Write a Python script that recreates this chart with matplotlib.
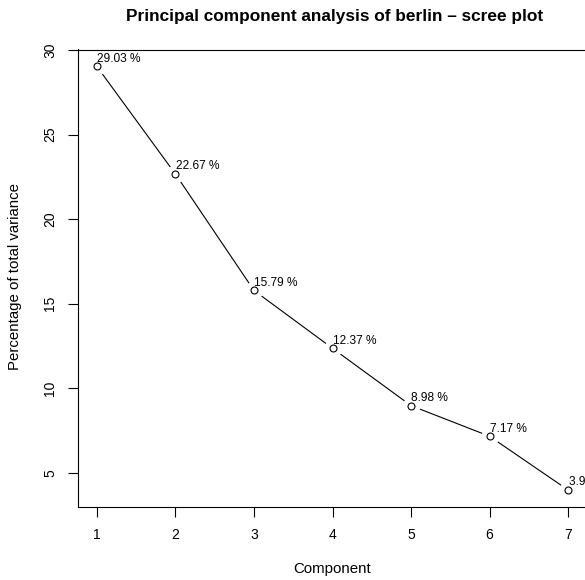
import matplotlib
matplotlib.use("Agg")
import matplotlib.pyplot as plt

components = [1, 2, 3, 4, 5, 6, 7]
variance_pct = [29.03, 22.67, 15.79, 12.37, 8.98, 7.17, 3.99]
point_labels = ["29.03 %", "22.67 %", "15.79 %", "12.37 %", "8.98 %", "7.17 %", "3.99 %"]
x_ticks = [1, 2, 3, 4, 5, 6, 7]
y_ticks = [5, 10, 15, 20, 25, 30]

plt.rcParams["font.family"] = ["Liberation Sans", "DejaVu Sans"]

W, H = 585, 580
fig = plt.figure(figsize=(W / 100, H / 100), dpi=100)
ax = fig.add_axes([78 / W, 73 / H, 509 / W, 457.5 / H])

# connecting line, with a white halo under each point so segments stop short
ax.plot(components, variance_pct, color="black", lw=0.8, zorder=2)
ax.plot(components, variance_pct, ls="none", marker="o", ms=12,
        mfc="white", mec="white", zorder=3)
ax.plot(components, variance_pct, ls="none", marker="o", ms=5,
        mfc="white", mec="black", mew=0.8, zorder=4)

for x, y, lab in zip(components, variance_pct, point_labels):
    ax.annotate(lab, (x, y), xytext=(0.3, 3.4), textcoords="offset points",
                ha="left", va="baseline", fontsize=8.6, annotation_clip=False,
                zorder=5)

ax.set_xlim(0.76, 7.24)
ax.set_ylim(2.99, 30.03)
ax.set_xticks(x_ticks)
ax.set_yticks(y_ticks)
ax.tick_params(direction="out", length=7, width=0.8, labelsize=10)
ax.tick_params(axis="x", pad=8)
ax.tick_params(axis="y", pad=8)
for lbl in ax.get_yticklabels():
    lbl.set_rotation(90)
    lbl.set_va("center")
for s in ax.spines.values():
    s.set_linewidth(0.8)
    s.set_color("black")

fig.text(332.5 / W, 1 - 569 / H, "Component", ha="center", va="center", fontsize=10.8)
fig.text(15 / W, 1 - 276 / H, "Percentage of total variance", ha="center", va="center",
         rotation=90, fontsize=10.8)
fig.text(335 / W, 1 - 16 / H, "Principal component analysis of berlin \u2013 scree plot",
         ha="center", va="center", fontsize=12.4, fontweight="bold")

fig.savefig("out.png", dpi=100)
